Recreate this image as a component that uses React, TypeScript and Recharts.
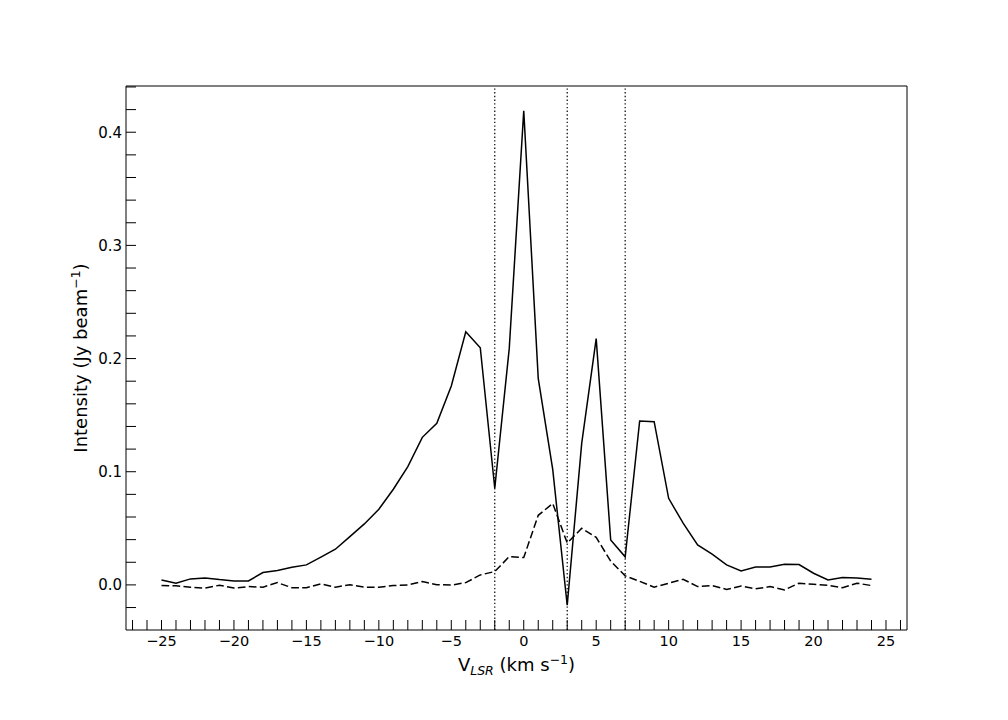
import { LineChart, Line, XAxis, YAxis, ReferenceLine, ReferenceArea } from "recharts";

// channel velocity (km/s)
const velocity = [
  -25, -24, -23, -22, -21, -20, -19, -18, -17, -16, -15, -14, -13, -12, -11, -10, -9, -8, -7, -6, -5, -4, -3, -2, -1,
  0, 1, 2, 3, 4, 5, 6, 7, 8, 9, 10, 11, 12, 13, 14, 15, 16, 17, 18, 19, 20, 21, 22, 23, 24,
];

// solid line: peak spectrum (Jy/beam)
const peakIntensity = [
  0.0044, 0.0015, 0.0053, 0.0062, 0.0047, 0.0035, 0.0035, 0.0109, 0.0127, 0.0156, 0.0177, 0.0245, 0.0315, 0.0427,
  0.0539, 0.0668, 0.0845, 0.1045, 0.1304, 0.1428, 0.1757, 0.2237, 0.2096, 0.0854, 0.209, 0.419, 0.1825, 0.102,
  -0.018, 0.125, 0.2176, 0.0397, 0.0248, 0.1448, 0.1442, 0.0765, 0.0545, 0.0353, 0.0271, 0.0177, 0.0124, 0.0159,
  0.0159, 0.0183, 0.018, 0.0103, 0.0044, 0.0065, 0.006, 0.005,
];

// dashed line
const meanIntensity = [
  -0.0006, -0.0008, -0.002, -0.0028, -0.0003, -0.0028, -0.0015, -0.002, 0.002, -0.0025, -0.0025, 0.001, -0.002,
  0.0002, -0.002, -0.002, -0.0006, 0.0, 0.003, 0.0002, -0.0002, 0.002, 0.0088, 0.0118, 0.025, 0.0242, 0.0615, 0.072,
  0.037, 0.05, 0.042, 0.021, 0.008, 0.0032, -0.002, 0.0015, 0.005, -0.0015, -0.0006, -0.004, -0.001, -0.0035,
  -0.0015, -0.0044, 0.0015, 0.0006, -0.0003, -0.0024, 0.0015, -0.0006,
];

const channelMarks = [-2, 3, 7];

const xTicks = [
  -27, -26, -25, -24, -23, -22, -21, -20, -19, -18, -17, -16, -15, -14, -13, -12, -11, -10, -9, -8, -7, -6, -5, -4,
  -3, -2, -1, 0, 1, 2, 3, 4, 5, 6, 7, 8, 9, 10, 11, 12, 13, 14, 15, 16, 17, 18, 19, 20, 21, 22, 23, 24, 25, 26,
];
const yTicks = [
  -0.02, 0, 0.02, 0.04, 0.06, 0.08, 0.1, 0.12, 0.14, 0.16, 0.18, 0.2, 0.22, 0.24, 0.26, 0.28, 0.3, 0.32, 0.34, 0.36,
  0.38, 0.4, 0.42, 0.44,
];

const X_DOMAIN: [number, number] = [-27.45, 26.45];
const Y_DOMAIN: [number, number] = [-0.03985, 0.44085];

const FONT = "'DejaVu Sans', sans-serif";
const TICK_LEN = 10;

const data = velocity.map((v, i) => ({ v, peak: peakIntensity[i], mean: meanIntensity[i] }));

const minus = (s: string) => s.replace("-", "\u2212");

function XTick({ x, y, payload }: any) {
  const v = payload.value;
  const major = v % 5 === 0;
  return (
    <g>
      <line x1={x} x2={x} y1={y} y2={y - TICK_LEN} stroke="#000" strokeWidth={1} />
      {major && (
        <text x={x} y={y + 16} textAnchor="middle" fontFamily={FONT} fontSize={14.5} fill="#000">
          {minus(String(v))}
        </text>
      )}
    </g>
  );
}

function YTick({ x, y, payload }: any) {
  const v = payload.value;
  const major = Math.abs(v * 10 - Math.round(v * 10)) < 1e-6;
  return (
    <g>
      <line x1={x} x2={x + TICK_LEN} y1={y} y2={y} stroke="#000" strokeWidth={1} />
      {major && (
        <text x={x - 4} y={y + 5.5} textAnchor="end" fontFamily={FONT} fontSize={15} fill="#000">
          {minus(v.toFixed(1))}
        </text>
      )}
    </g>
  );
}

function XTitle({ viewBox }: any) {
  const cx = viewBox.x + viewBox.width / 2;
  return (
    <text x={cx} y={viewBox.y + 41} textAnchor="middle" fontFamily={FONT} fontSize={18} fill="#000">
      V
      <tspan fontSize={12.5} fontStyle="italic" dy={4}>LSR</tspan>
      <tspan dy={-4}> (km s</tspan>
      <tspan fontSize={12.5} dy={-7}>{"\u22121"}</tspan>
      <tspan dy={7}>)</tspan>
    </text>
  );
}

function YTitle({ viewBox }: any) {
  const cy = viewBox.y + viewBox.height / 2;
  const x = 87;
  return (
    <text x={x} y={cy} transform={`rotate(-90 ${x} ${cy})`} textAnchor="middle" fontFamily={FONT} fontSize={18} fill="#000">
      Intensity (Jy beam
      <tspan fontSize={12.5} dy={-7}>{"\u22121"}</tspan>
      <tspan dy={7}>)</tspan>
    </text>
  );
}

export default function App() {
  return (
    <div style={{ position: "absolute", left: 0, top: 0, width: 1008, height: 720, background: "#fff" }}>
      <LineChart width={1008} height={720} data={data} margin={{ top: 86, right: 101, bottom: 0, left: 0 }}>
        <XAxis
          dataKey="v"
          type="number"
          domain={X_DOMAIN}
          allowDataOverflow
          ticks={xTicks}
          interval={0}
          tickSize={0}
          tickMargin={0}
          axisLine={false}
          tickLine={false}
          tick={(p: any) => <XTick {...p} />}
          height={90}
          label={<XTitle />}
        />
        <YAxis
          type="number"
          domain={Y_DOMAIN}
          allowDataOverflow
          ticks={yTicks}
          interval={0}
          tickSize={0}
          tickMargin={0}
          axisLine={false}
          tickLine={false}
          tick={(p: any) => <YTick {...p} />}
          width={126}
          label={<YTitle />}
        />
        <ReferenceArea
          x1={X_DOMAIN[0]}
          x2={X_DOMAIN[1]}
          y1={Y_DOMAIN[0]}
          y2={Y_DOMAIN[1]}
          fill="none"
          fillOpacity={0}
          stroke="#000"
          strokeWidth={1}
          ifOverflow="visible"
        />
        {channelMarks.map((c) => (
          <ReferenceLine key={c} x={c} stroke="#000" strokeWidth={1.2} strokeDasharray="1.4 2.3" />
        ))}
        <Line
          dataKey="peak"
          type="linear"
          stroke="#000"
          strokeWidth={1.5}
          dot={false}
          activeDot={false}
          isAnimationActive={false}
        />
        <Line
          dataKey="mean"
          type="linear"
          stroke="#000"
          strokeWidth={1.5}
          strokeDasharray="7.7 3.3"
          dot={false}
          activeDot={false}
          isAnimationActive={false}
        />
      </LineChart>
    </div>
  );
}
